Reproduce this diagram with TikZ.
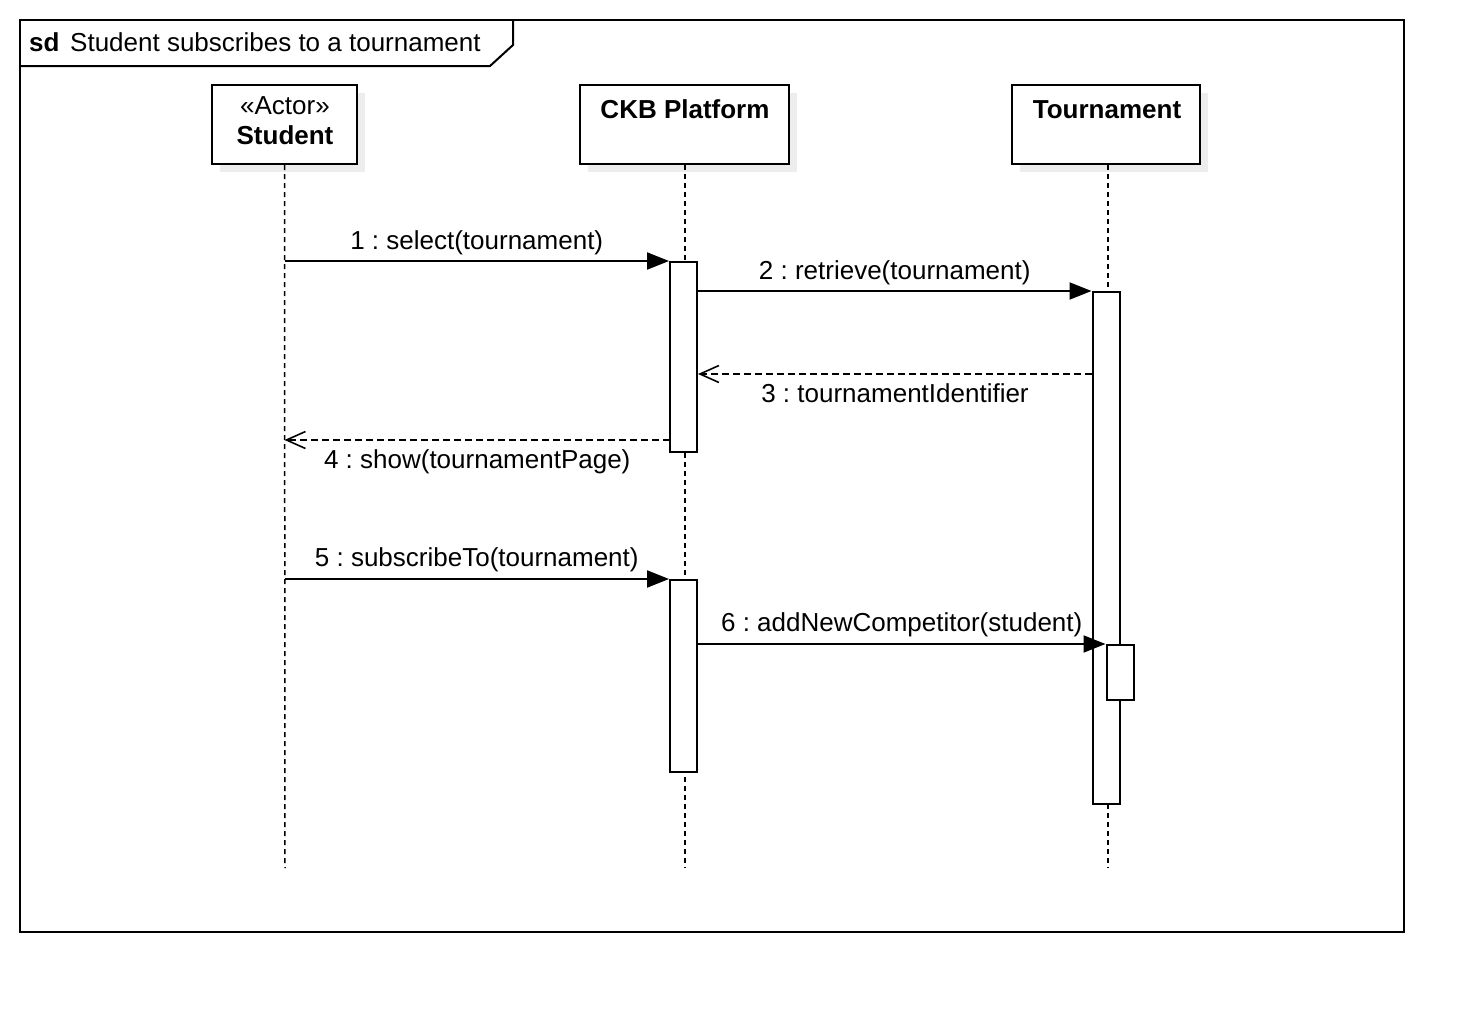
\documentclass[tikz,border=0pt]{standalone}
\usepackage{fontspec}
\setmainfont{Liberation Sans}
\usetikzlibrary{arrows.meta}
\begin{document}
\frenchspacing
\begin{tikzpicture}[x=1pt,y=-1pt,
  every node/.style={font=\fontsize{26}{31}\selectfont},
  frame/.style={line width=2pt},
  lifebox/.style={draw, line width=2pt, fill=white, inner sep=0pt},
  shadowbox/.style={fill=black!7, inner sep=0pt},
  act/.style={draw, line width=2pt, fill=white, minimum width=27pt, inner sep=0pt},
  lifeline/.style={line width=1.5pt, dash pattern=on 5pt off 4pt},
  msg/.style={line width=2pt, -{Triangle[length=22pt,width=17pt]}},
  reply/.style={line width=2pt, dash pattern=on 7pt off 4pt, -{Straight Barb[length=19pt,width=17pt,line width=1.6pt]}},
  lbl/.style={anchor=base, inner sep=0pt}]
\useasboundingbox[fill=white] (0,0) rectangle (1484,1012);

% frame
\draw[frame] (20,20) rectangle (1404,932);
\draw[frame] (20,66) -- (490,66) -- (513,45) -- (513,20);
\node[lbl, anchor=base west] (sd) at (29,51) {\bfseries sd};
\node[lbl, anchor=base west] (title) at (70,51) {Student subscribes to a tournament};

% shadows
\node[shadowbox, minimum width=145pt, minimum height=79pt] (stush) at (292.5,132.5) {};
\node[shadowbox, minimum width=209pt, minimum height=79pt] (ckbsh) at (692.5,132.5) {};
\node[shadowbox, minimum width=188pt, minimum height=79pt] (tousGsh) at (1114,132.5) {};

% lifeline heads
\node[lifebox, minimum width=145pt, minimum height=79pt] (stu) at (284.5,124.5) {};
\node[lifebox, minimum width=209pt, minimum height=79pt] (ckb) at (684.5,124.5) {};
\node[lifebox, minimum width=188pt, minimum height=79pt] (tou) at (1106,124.5) {};
\node[lbl] (stuster) at (285,114) {«Actor»};
\node[lbl] (stuname) at (285,144) {\bfseries Student};
\node[lbl] (ckbname) at (685,118) {\bfseries CKB Platform};
\node[lbl] (touname) at (1107,118) {\bfseries Tournament};

% lifelines
\coordinate (stuEnd) at (285,868);
\coordinate (ckbEnd) at (685,868);
\coordinate (touEnd) at (1108,868);
\draw[lifeline] (stu.south) -- (stuEnd);
\draw[lifeline] (ckb.south -| ckbEnd) -- (ckbEnd);
\draw[lifeline] (tou.south -| touEnd) -- (touEnd);

% activations
\node[act, minimum height=190pt] (a1) at (683.5,357) {};
\node[act, minimum height=512pt] (t1) at (1106,548) {};
\node[act, minimum height=192pt] (a2) at (683.5,676) {};
\node[act, minimum height=55pt] (t2) at (1120,672.5) {};

% messages
\draw[msg] (stu.south |- a1.north west) -- (a1.north west)
  node[lbl, midway, yshift=12pt] (m1) {1 : select(tournament)};
\draw[msg] (a1.east |- t1.north west) -- (t1.north west)
  node[lbl, midway, yshift=12pt] (m2) {2 : retrieve(tournament)};
\coordinate (r3) at (1092,374);
\draw[reply] (r3) -- (a1.east |- r3)
  node[lbl, midway, yshift=-28pt] (m3) {3 : tournamentIdentifier};
\coordinate (r4) at (670,440);
\draw[reply] (r4) -- (stu.south |- r4)
  node[lbl, midway, yshift=-28pt] (m4) {4 : show(tournamentPage)};
\draw[msg] (stu.south |- a2.north west) -- (a2.north west)
  node[lbl, midway, yshift=13pt] (m5) {5 : subscribeTo(tournament)};
\draw[msg] (a2.east |- t2.north west) -- (t2.north west)
  node[lbl, midway, yshift=13pt] (m6) {6 : addNewCompetitor(student)};
\end{tikzpicture}
\end{document}
